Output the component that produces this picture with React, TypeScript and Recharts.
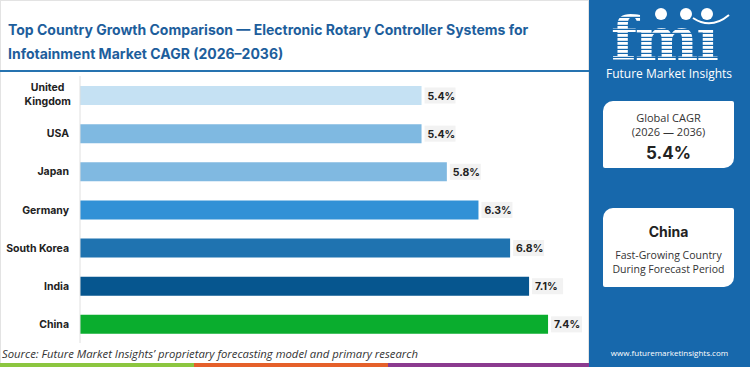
import { BarChart, Bar, XAxis, YAxis, Cell, LabelList } from 'recharts';

const countries = ['United Kingdom', 'USA', 'Japan', 'Germany', 'South Korea', 'India', 'China'];
const cagrValues = [5.4, 5.4, 5.8, 6.3, 6.8, 7.1, 7.4];
const barColors = ['#c5e1f3', '#7fb9e1', '#80b9e1', '#3191d6', '#1f73b0', '#06568f', '#0aad2e'];

const data = countries.map((name, i) => ({ name, value: cagrValues[i] }));

const FONT = 'Inter, "Open Sans", sans-serif';

const CountryTick = ({ x, y, payload }) => {
  const words = payload.value === 'United Kingdom' ? ['United', 'Kingdom'] : [payload.value];
  if (words.length > 1) {
    const longest = Math.max(...words.map((w) => w.length));
    const cx = x - 3 - (longest * 6.1) / 2;
    return (
      <text x={cx} y={y} textAnchor="middle" fontSize={10.5} fontWeight={700} fill="#222" fontFamily={FONT}>
        <tspan x={cx} dy={-4}>{words[0]}</tspan>
        <tspan x={cx} dy={14}>{words[1]}</tspan>
      </text>
    );
  }
  return (
    <text x={x - 3} y={y} dy={4} textAnchor="end" fontSize={10.5} fontWeight={700} fill="#222" fontFamily={FONT}>
      {payload.value}
    </text>
  );
};

const ValueLabel = (props) => {
  const { x, y, width, height, value } = props;
  const bx = Number(x) + Number(width) + 3;
  const cy = Number(y) + Number(height) / 2;
  return (
    <g>
      <rect x={bx} y={cy - 8} width={31} height={16} fill="#f2f2f2" />
      <text x={bx + 3} y={cy + 4} fontSize={10.5} fontWeight={700} fill="#222" fontFamily={FONT}>
        {`${value}%`}
      </text>
    </g>
  );
};

// striped "fmi" mark, drawn as white bands clipped to the letter shapes
const Logo = () => {
  const stripes = [];
  for (let yy = 10; yy < 64; yy += 4) stripes.push(yy);
  return (
    <svg width={160} height={90} style={{ position: 'absolute', left: 0, top: 0 }}>
      <defs>
        <clipPath id="fmiClip">
          <text x={22} y={60} fontSize={60} fontWeight={700} fontFamily='"DejaVu Serif", serif' letterSpacing={-2}>
            fmı
          </text>
        </clipPath>
      </defs>
      <g clipPath="url(#fmiClip)">
        {stripes.map((yy) => (
          <rect key={yy} x={15} y={yy} width={130} height={2.8} fill="#fff" />
        ))}
      </g>
      <circle cx={72} cy={14} r={6} fill="#fff" />
      <circle cx={97} cy={14} r={6} fill="#fff" />
      <circle cx={118} cy={14} r={6} fill="#fff" />
      <path d="M104 18 Q122 30 140 15" stroke="#fff" strokeWidth={2} fill="none" />
      <text x={80} y={78} textAnchor="middle" fontSize={12} fill="#fff" fontFamily='"Open Sans", sans-serif'>
        Future Market Insights
      </text>
    </svg>
  );
};

export default function App() {
  return (
    <div style={{ position: 'absolute', left: 0, top: 0, width: 750, height: 367, background: '#fff', overflow: 'hidden', fontFamily: FONT }}>
      <div style={{ position: 'absolute', left: 0, top: 0, width: 589, height: 367, border: '1px solid #e3e3e3', boxSizing: 'border-box' }} />
      <div style={{ position: 'absolute', left: 8, top: 18, width: 580, fontSize: 14, fontWeight: 700, lineHeight: '24px', color: '#1d5e9c' }}>
        Top Country Growth Comparison — Electronic Rotary Controller Systems for
        <br />
        Infotainment Market CAGR (2026–2036)
      </div>
      <div style={{ position: 'absolute', left: 0, top: 70, width: 589, height: 2, background: '#2673b0' }} />

      <div style={{ position: 'absolute', left: 0, top: 0 }}>
        <BarChart
          width={590}
          height={367}
          data={data}
          layout="vertical"
          margin={{ top: 76, right: 4, bottom: 24, left: 0 }}
        >
          <XAxis type="number" domain={[0, 8]} tick={false} axisLine={false} tickLine={false} height={0} />
          <YAxis
            type="category"
            dataKey="name"
            width={80}
            axisLine={{ stroke: '#e0e0e0' }}
            tickLine={false}
            tick={<CountryTick />}
            interval={0}
          />
          <Bar dataKey="value" barSize={19} isAnimationActive={false}>
            {data.map((d, i) => (
              <Cell key={d.name} fill={barColors[i]} />
            ))}
            <LabelList dataKey="value" content={<ValueLabel />} />
          </Bar>
        </BarChart>
      </div>

      <div style={{ position: 'absolute', left: 2, top: 346, fontSize: 11.3, fontStyle: 'italic', color: '#333', fontFamily: '"Open Sans", sans-serif' }}>
        Source: Future Market Insights’ proprietary forecasting model and primary research
      </div>
      <div style={{ position: 'absolute', left: 0, top: 363, width: 194, height: 4, background: '#8cc63f' }} />
      <div style={{ position: 'absolute', left: 194, top: 363, width: 194, height: 4, background: '#e5602a' }} />
      <div style={{ position: 'absolute', left: 388, top: 363, width: 201, height: 4, background: '#8b3a8f' }} />

      <div style={{ position: 'absolute', left: 589, top: 0, width: 161, height: 367, background: '#1768ac' }}>
        <Logo />
        <div style={{ position: 'absolute', left: 14, top: 101, width: 131, height: 67, background: '#fff', borderRadius: '10px 2px 10px 2px', textAlign: 'center', color: '#333' }}>
          <div style={{ marginTop: 10, fontSize: 11, lineHeight: '14px', fontFamily: '"Open Sans", sans-serif' }}>Global CAGR</div>
          <div style={{ fontSize: 11, lineHeight: '14px', fontFamily: '"Open Sans", sans-serif' }}>(2026 — 2036)</div>
          <div style={{ marginTop: 4, fontSize: 17, fontWeight: 700, color: '#222' }}>5.4%</div>
        </div>
        <div style={{ position: 'absolute', left: 14, top: 208, width: 131, height: 79, background: '#fff', borderRadius: '10px 2px 10px 2px', textAlign: 'center', color: '#333' }}>
          <div style={{ marginTop: 15, fontSize: 14, fontWeight: 700, color: '#222' }}>China</div>
          <div style={{ marginTop: 8, fontSize: 10.5, lineHeight: '14px', fontFamily: '"Open Sans", sans-serif' }}>
            Fast-Growing Country
            <br />
            During Forecast Period
          </div>
        </div>
        <div style={{ position: 'absolute', left: 0, top: 347, width: 161, textAlign: 'center', fontSize: 8, color: '#fff', fontFamily: '"Open Sans", sans-serif' }}>
          www.futuremarketinsights.com
        </div>
      </div>
    </div>
  );
}
